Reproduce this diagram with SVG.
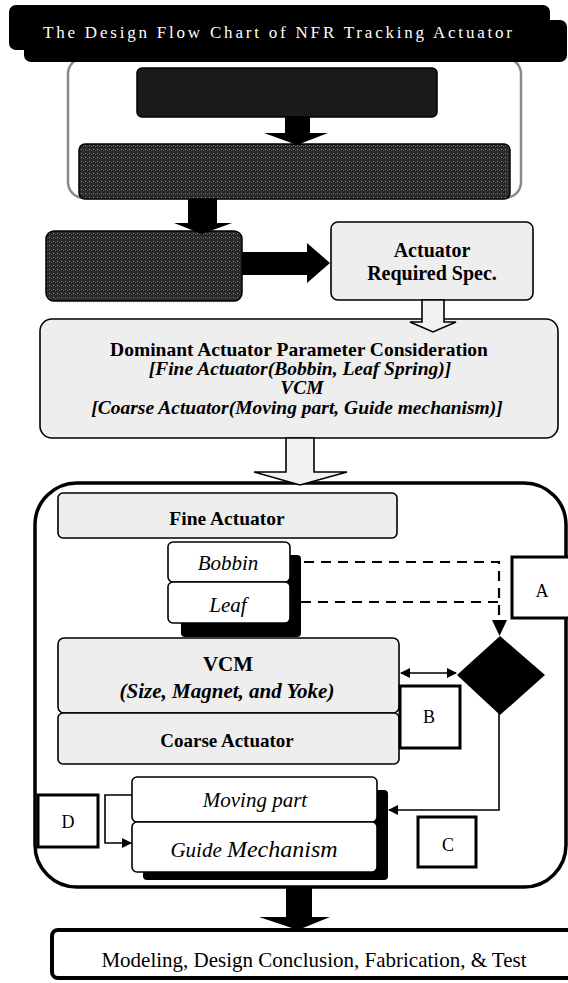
<svg xmlns="http://www.w3.org/2000/svg" width="568" height="983" viewBox="0 0 568 983">
<defs>
<style>
.serif{font-family:"Liberation Serif","Times New Roman","DejaVu Serif",serif;fill:#000}
.b{font-weight:bold}
.i{font-style:italic}
.lt{fill:#eeeeee;stroke:#000;stroke-width:1.6}
.wt{fill:#ffffff;stroke:#000;stroke-width:1.6}
.dk{stroke:#000;stroke-width:1.5}
.lbl{fill:#fff;stroke:#000;stroke-width:3}
.blk{fill:#000}
.hol{fill:#f2f2f2;stroke:#000;stroke-width:1.6;stroke-linejoin:miter}
.dash{fill:none;stroke:#000;stroke-width:2.2;stroke-dasharray:10 7}
.ln{fill:none;stroke:#000;stroke-width:1.6}
</style>
<marker id="ah" viewBox="0 0 10 10" refX="9" refY="5" markerWidth="10" markerHeight="10" markerUnits="userSpaceOnUse" orient="auto-start-reverse">
<path d="M0,0 L10,5 L0,10 z" fill="#000"/>
</marker>
<pattern id="dots" width="4" height="4" patternUnits="userSpaceOnUse">
<rect width="4" height="4" fill="#2a2a2a"/>
<rect x="1" y="1" width="1" height="1" fill="#8a8a8a"/>
<rect x="3" y="2" width="1" height="1" fill="#555"/>
</pattern>
</defs>

<g id="frame-top">
<rect x="68" y="58" width="453" height="140" rx="16" fill="none" stroke="#8a8a8a" stroke-width="2.5"/>
</g>

<g id="title">
<rect x="24" y="20" width="543" height="42" rx="7" fill="#000"/>
<rect x="9" y="5" width="541" height="45" rx="7" fill="#000"/>
<text class="serif" x="43" y="38" font-size="17" fill="#fff" style="fill:#fff" textLength="469" lengthAdjust="spacing">The Design Flow Chart of NFR Tracking Actuator</text>
</g>

<g id="dark1">
<rect class="dk" x="137" y="68" width="300" height="49" rx="5" fill="#1a1a1a"/>
</g>
<g id="dark2">
<rect class="dk" x="79" y="144" width="431" height="55" rx="6" fill="url(#dots)"/>
</g>
<g id="dark3">
<rect class="dk" x="46" y="231" width="196" height="70" rx="8" fill="url(#dots)"/>
</g>

<g id="spec">
<rect class="lt" x="331" y="222" width="202" height="78" rx="7"/>
<text class="serif b" x="432" y="257" font-size="20" text-anchor="middle">Actuator</text>
<text class="serif b" x="432" y="280" font-size="20" text-anchor="middle">Required Spec.</text>
</g>

<g id="dominant">
<rect class="lt" x="40" y="319" width="518" height="119" rx="12"/>
<text class="serif b" x="299" y="356" font-size="19.5" text-anchor="middle">Dominant Actuator Parameter Consideration</text>
<text class="serif b i" x="300" y="375" font-size="19.5" text-anchor="middle">[Fine Actuator(Bobbin, Leaf Spring)]</text>
<text class="serif b i" x="302" y="394" font-size="19.5" text-anchor="middle">VCM</text>
<text class="serif b i" x="297" y="414" font-size="19.5" text-anchor="middle">[Coarse Actuator(Moving part, Guide mechanism)]</text>
</g>

<g id="design-block">
<rect x="35" y="483" width="531" height="404" rx="42" fill="#fff" stroke="#000" stroke-width="3.5"/>
</g>

<g id="fine-actuator">
<rect class="lt" x="58" y="493" width="339" height="45" rx="5"/>
<text class="serif b" x="227" y="525" font-size="19.5" text-anchor="middle">Fine Actuator</text>
</g>

<g id="bobbin-leaf-shadow">
<rect x="181" y="555" width="120" height="82" rx="4" fill="#000"/>
</g>
<g id="bobbin">
<rect class="wt" x="168" y="542" width="122" height="40" rx="5"/>
<text class="serif i" x="228" y="570" font-size="21" text-anchor="middle">Bobbin</text>
</g>
<g id="leaf">
<rect class="wt" x="168" y="582" width="122" height="41" rx="5"/>
<text class="serif i" x="228" y="612" font-size="21" text-anchor="middle">Leaf</text>
</g>

<g id="vcm">
<rect class="lt" x="58" y="638" width="341" height="75" rx="6"/>
<text class="serif b" x="228" y="671" font-size="21" text-anchor="middle">VCM</text>
<text class="serif b i" x="227" y="698" font-size="21" text-anchor="middle">(Size, Magnet, and Yoke)</text>
</g>

<g id="coarse-actuator">
<rect class="lt" x="58" y="713" width="341" height="51" rx="5"/>
<text class="serif b" x="227" y="747" font-size="19" text-anchor="middle">Coarse Actuator</text>
</g>

<g id="guide-shadow">
<rect x="143" y="790" width="245" height="90" rx="4" fill="#000"/>
</g>
<g id="moving-part">
<rect class="wt" x="132" y="777" width="245" height="45" rx="5"/>
<text class="serif i" x="255" y="807" font-size="21" text-anchor="middle">Moving part</text>
</g>
<g id="guide">
<rect class="wt" x="132" y="822" width="245" height="50" rx="5"/>
<text class="serif i" x="254" y="857" text-anchor="middle"><tspan font-size="21">Guide </tspan><tspan font-size="24">Mechanism</tspan></text>
</g>

<g id="decision">
<polygon points="500,636 545,675 500,715 457,675" fill="#000"/>
</g>

<g id="label-a">
<rect class="lbl" x="512" y="557" width="70" height="61" stroke-width="3.5"/>
<text class="serif" x="542" y="597" font-size="18" text-anchor="middle">A</text>
</g>
<g id="label-b">
<rect class="lbl" x="400" y="686" width="60" height="62" stroke-width="3.5"/>
<text class="serif" x="429" y="723" font-size="18" text-anchor="middle">B</text>
</g>
<g id="label-c">
<rect class="lbl" x="418" y="817" width="58" height="50"/>
<text class="serif" x="448" y="851" font-size="18" text-anchor="middle">C</text>
</g>
<g id="label-d">
<rect class="lbl" x="38" y="795" width="60" height="52"/>
<text class="serif" x="68" y="828" font-size="18" text-anchor="middle">D</text>
</g>

<g id="final">
<rect x="52" y="930" width="530" height="48" rx="6" fill="#fff" stroke="#000" stroke-width="4"/>
<text class="serif" x="314" y="967" font-size="21" text-anchor="middle">Modeling, Design Conclusion, Fabrication, &amp; Test</text>
</g>

<g id="connectors">
<polygon class="blk" points="285,117 310,117 310,133 328,133 297,145 264,133 285,133"/>
<polygon class="blk" points="188,199 217,199 217,223 232,223 202,234 174,223 188,223"/>
<polygon class="blk" points="242,252 307,252 307,243 330,263 307,283 307,275 242,275"/>
<polygon class="hol" points="422,300 444,300 444,322 456,322 433,332 410,322 422,322"/>
<polygon class="hol" points="286,438 314,438 314,472 347,472 300,485 254,472 286,472"/>
<path class="dash" d="M304,562 H499 V620"/>
<path d="M492,620 L507,620 L499.5,636 z" fill="#000"/>
<path class="dash" d="M301,602 H499"/>
<line class="ln" x1="401" y1="673" x2="456" y2="673" marker-start="url(#ah)" marker-end="url(#ah)"/>
<path class="ln" d="M499,712 V810 H389" marker-end="url(#ah)"/>
<path class="ln" d="M132,795 H105 V843 H131" marker-end="url(#ah)"/>
<polygon class="blk" points="286,887 312,887 312,917 330,917 298,930 259,917 286,917"/>
</g>
</svg>
